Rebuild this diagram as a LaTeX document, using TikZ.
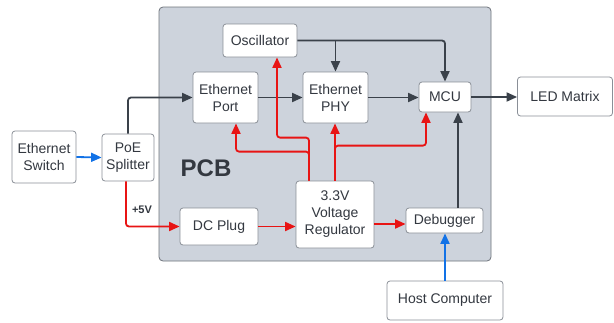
\documentclass[tikz,border=0pt]{standalone}
\usepackage{fontspec}
\setmainfont{Liberation Sans}
\usetikzlibrary{arrows.meta}
\definecolor{boxgray}{HTML}{8A8F97}
\definecolor{txtgray}{HTML}{333840}
\definecolor{linegray}{HTML}{3A414A}
\definecolor{pcbfill}{HTML}{CDD3DC}
\definecolor{pcbline}{HTML}{6E737B}
\definecolor{redline}{HTML}{E81414}
\definecolor{blueline}{HTML}{1272E6}
\begin{document}
\begin{tikzpicture}[x=1pt,y=-1pt,
  blk/.style={draw=boxgray, fill=white, rounded corners=3pt, line width=0.8pt,
    inner sep=0pt, align=center, text=txtgray,
    font=\fontsize{14}{17}\selectfont},
  conn/.style={line width=1.8pt, rounded corners=3pt,
    -{Triangle[length=10.5pt,width=9pt]}},
  garrow/.style={conn, draw=linegray, color=linegray},
  rarrow/.style={conn, draw=redline, color=redline},
  barrow/.style={conn, draw=blueline, color=blueline}]
\useasboundingbox (0,0) rectangle (614,322);
% PCB
\draw[draw=pcbline, fill=pcbfill, rounded corners=4pt, line width=0.8pt] (159,7) rectangle (491,261);
\node[text=txtgray, font=\fontsize{24}{28}\selectfont\bfseries] (pcb) at (206,168) {PCB};
% blocks
\node[blk, minimum width=74pt, minimum height=33pt] (osc) at (260,40.5) {Oscillator};
\node[blk, minimum width=65pt, minimum height=51pt] (port) at (225.5,97.5) {Ethernet\\Port};
\node[blk, minimum width=65pt, minimum height=51pt] (phy) at (335.5,97.5) {Ethernet\\PHY};
\node[blk, minimum width=52pt, minimum height=30pt] (mcu) at (445,97) {MCU};
\node[blk, minimum width=95pt, minimum height=39pt] (led) at (565,96.5) {LED Matrix};
\node[blk, minimum width=64pt, minimum height=52pt] (sw) at (44,157) {Ethernet\\Switch};
\node[blk, minimum width=52pt, minimum height=47pt] (poe) at (128,157.5) {PoE\\Splitter};
\node[blk, minimum width=78pt, minimum height=37pt] (dc) at (219,226.5) {DC Plug};
\node[blk, minimum width=78pt, minimum height=67pt] (reg) at (335,214.5) {3.3V\\Voltage\\Regulator};
\node[blk, minimum width=77pt, minimum height=25pt] (dbg) at (444.5,220.5) {Debugger};
\node[blk, minimum width=116pt, minimum height=39pt] (host) at (445,300.5) {Host Computer};
% gray connectors
\draw[garrow] (poe.north) |- (port.west);
\draw[garrow] (port.east) -- (phy.west);
\draw[garrow] (phy.east) -- (phy.east -| mcu.west);
\draw[garrow] (osc.east) -| (mcu.north);
\draw[garrow] (phy.north |- osc.east) -- (phy.north);
\draw[garrow] (mcu.east) -- (mcu.east -| led.west);
\draw[garrow] ([xshift=13.5pt]dbg.north) -- ([xshift=13.5pt]dbg.north |- mcu.south);
% blue connectors
\draw[barrow] (sw.east) -- (poe.west);
\draw[barrow] (host.north) -- (host.north |- dbg.south);
% red connectors
\draw[rarrow] ([xshift=-2pt]poe.south) |- (dc.west);
\node[text=txtgray, font=\fontsize{11}{13}\selectfont\bfseries] (v5) at (142,210) {+5V};
\draw[rarrow] (dc.east) -- (dc.east -| reg.west);
\draw[rarrow] ([yshift=-9.5pt]reg.east) -- ([yshift=-9.5pt]reg.east -| dbg.west);
\draw[rarrow] ([xshift=-26pt]reg.north) -- ++(0,-43) -| ([xshift=17pt]osc.south);
\draw[rarrow] ([xshift=-26pt]reg.north) -- ++(0,-29) -| ([xshift=10.5pt]port.south);
\draw[rarrow] (reg.north) -- (reg.north |- phy.south);
\draw[rarrow] (reg.north) -- ++(0,-35) -| ([xshift=-19pt]mcu.south);
\end{tikzpicture}
\end{document}
